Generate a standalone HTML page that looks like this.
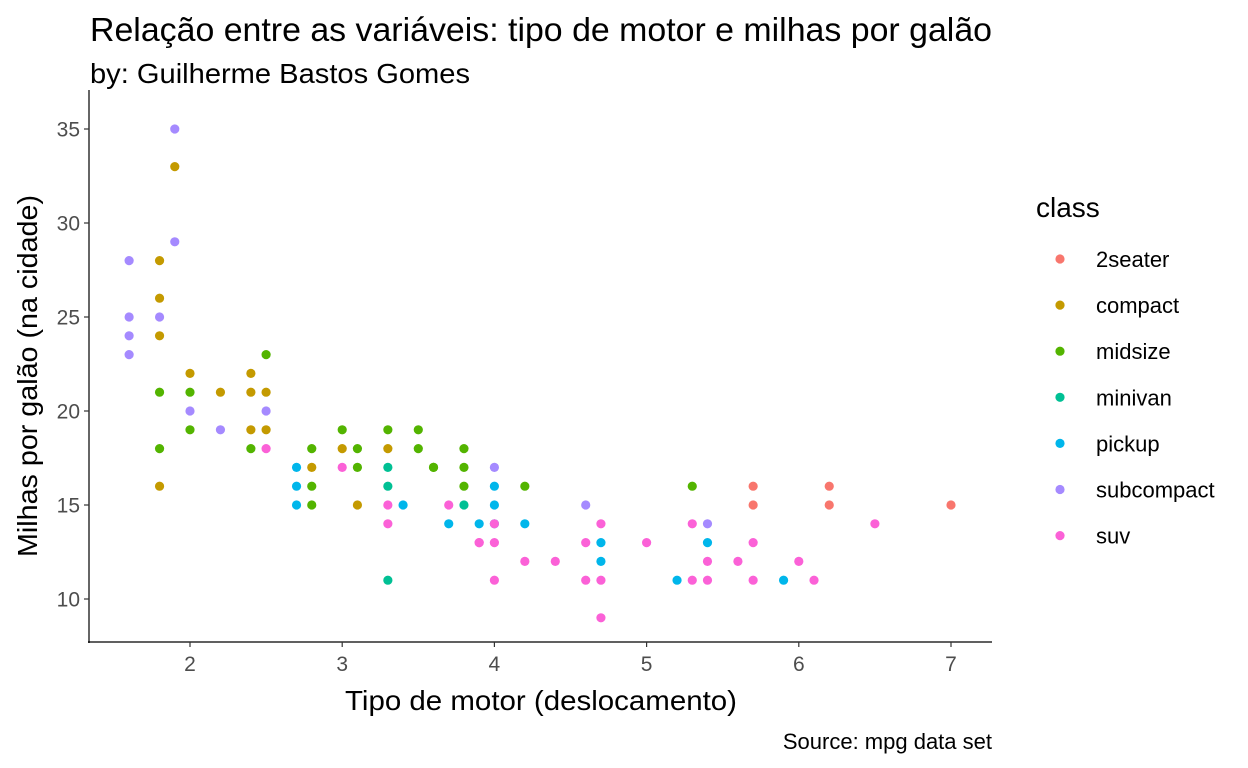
<!DOCTYPE html>
<html><head><meta charset="utf-8"><style>
body{margin:0;background:#fff;}
svg{display:block;font-family:"Liberation Sans",Arial,sans-serif;}
</style></head><body>
<svg id="chart" width="1248" height="768">
<text x="90" y="41" font-size="33" textLength="902" lengthAdjust="spacingAndGlyphs" fill="#000">Relação entre as variáveis: tipo de motor e milhas por galão</text>
<text x="90" y="83" font-size="28" textLength="380" lengthAdjust="spacingAndGlyphs" fill="#000">by: Guilherme Bastos Gomes</text>
<text x="992" y="749" font-size="22" text-anchor="end" fill="#000">Source: mpg data set</text>
<text x="541" y="710" font-size="28" text-anchor="middle" textLength="392" lengthAdjust="spacingAndGlyphs" fill="#000">Tipo de motor (deslocamento)</text>
<text transform="translate(37,376) rotate(-90)" font-size="28" text-anchor="middle" textLength="362" lengthAdjust="spacingAndGlyphs" fill="#000">Milhas por galão (na cidade)</text>
<line x1="89" y1="90" x2="89" y2="643" stroke="#000" stroke-width="1.2"/>
<line x1="88" y1="642" x2="992" y2="642" stroke="#000" stroke-width="1.2"/>
<g id="ticks"></g>
<g id="points"></g>
<g id="legend"></g>
</svg>
<script>
const xTicks=[2,3,4,5,6,7];
const yTicks=[10,15,20,25,30,35];
const classes=["2seater","compact","midsize","minivan","pickup","subcompact","suv"];
const colors=["#F8766D","#C49A00","#53B400","#00C094","#00B6EB","#A58AFF","#FB61D7"];
const displ=[5.7,5.7,6.2,6.2,7.0,
1.8,1.8,1.8,1.8,1.9,2.0,2.2,2.4,2.4,2.5,2.4,2.5,2.8,3.0,3.3,3.1,
1.8,1.8,2.0,2.0,2.4,2.5,2.8,2.8,2.8,3.0,3.1,3.1,3.3,3.5,3.5,3.6,3.8,3.8,3.8,4.2,5.3,3.6,
3.3,3.3,3.8,3.3,
2.7,2.7,2.7,3.4,3.7,3.9,4.0,4.0,4.2,4.7,4.7,5.2,5.4,5.9,4.0,
1.6,1.6,1.6,1.6,1.8,1.9,1.9,2.0,2.2,2.5,4.6,4.0,5.4,
2.5,3.0,3.3,3.3,3.7,3.9,4.0,3.9,4.0,4.2,4.0,4.4,4.6,4.6,4.7,4.7,4.7,5.0,5.3,5.3,5.4,5.4,5.6,5.7,5.7,6.0,6.1,6.5];
const cty=[16,15,16,15,15,
28,26,24,16,33,22,21,22,21,21,19,19,17,18,18,15,
21,18,21,19,18,23,18,16,15,19,18,17,19,19,18,17,18,17,16,16,16,17,
17,16,15,11,
17,16,15,15,14,14,16,15,14,13,12,11,13,11,14,
28,25,24,23,25,35,29,20,19,20,15,17,14,
18,17,15,14,15,13,14,13,13,12,11,12,13,11,14,11,9,13,14,11,12,11,12,13,11,12,11,14];
const cls=[0,0,0,0,0,
1,1,1,1,1,1,1,1,1,1,1,1,1,1,1,1,
2,2,2,2,2,2,2,2,2,2,2,2,2,2,2,2,2,2,2,2,2,2,
3,3,3,3,
4,4,4,4,4,4,4,4,4,4,4,4,4,4,4,
5,5,5,5,5,5,5,5,5,5,5,5,5,
6,6,6,6,6,6,6,6,6,6,6,6,6,6,6,6,6,6,6,6,6,6,6,6,6,6,6,6];
const NS="http://www.w3.org/2000/svg";
function xs(v){return 190+(v-2)*152.2;}
function ys(v){return 599-(v-10)*18.8;}
function mk(t,a,p){const e=document.createElementNS(NS,t);for(const k in a)e.setAttribute(k,a[k]);p.appendChild(e);return e;}
const tg=document.getElementById('ticks');
xTicks.forEach(t=>{
 const l=mk('line',{x1:xs(t),x2:xs(t),y1:642,y2:647,stroke:'#333','stroke-width':1.2},tg);
 
 
 const tx=mk('text',{x:xs(t),y:671,'font-size':21,'text-anchor':'middle',fill:'#4d4d4d'},tg);
 tx.textContent=t;
 
 
});
yTicks.forEach(t=>{
 const l=mk('line',{x1:84,x2:89,y1:ys(t),y2:ys(t),stroke:'#333','stroke-width':1.2},tg);
 
 
 const tx=mk('text',{x:80,y:ys(t)+7.5,'font-size':21,'text-anchor':'end',fill:'#4d4d4d'},tg);
 tx.textContent=t;
 
 
});
const pg=document.getElementById('points');
displ.forEach((d,i)=>{
 const c=mk('circle',{cx:xs(d),cy:ys(cty[i]),r:4.6,fill:colors[cls[i]]},pg);
 
 
});
const lg=document.getElementById('legend');
const lt=mk('text',{x:1036,y:217,'font-size':28,fill:'#000'},lg);
lt.textContent='class';


classes.forEach((c,i)=>{
 const y=259+i*46.1;
 const d=mk('circle',{cx:1060,cy:y,r:4.6,fill:colors[i]},lg);
 
 
 const t=mk('text',{x:1096,y:y+8,'font-size':22,fill:'#000'},lg);
 t.textContent=c;
 
 
});
</script>
</body></html>
